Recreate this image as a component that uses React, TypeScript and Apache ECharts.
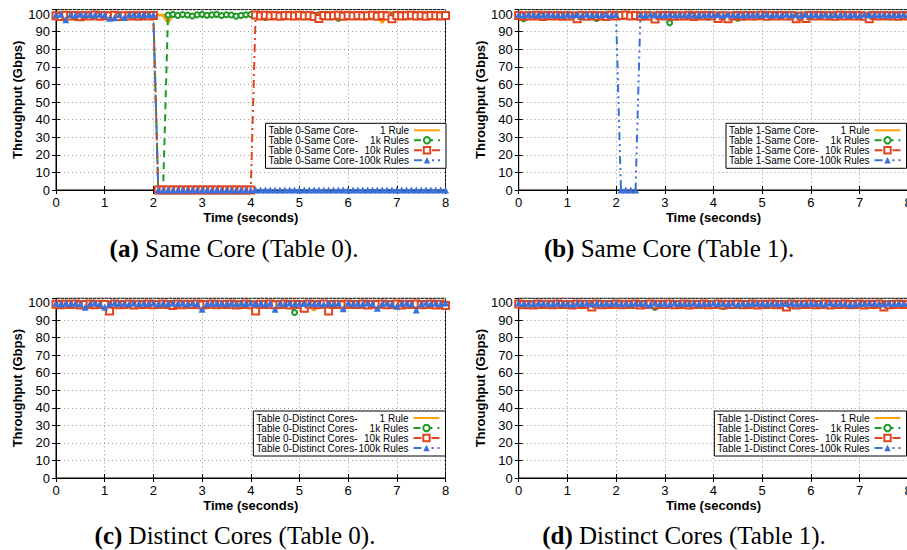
import React, { useEffect, useRef } from 'react';
import * as echarts from 'echarts';

// ---------------- data ----------------
const TIMES = [
  0, 0.1, 0.2, 0.3, 0.4, 0.5, 0.6, 0.7, 0.8, 0.9,
  1, 1.1, 1.2, 1.3, 1.4, 1.5, 1.6, 1.7, 1.8, 1.9,
  2, 2.1, 2.2, 2.3, 2.4, 2.5, 2.6, 2.7, 2.8, 2.9,
  3, 3.1, 3.2, 3.3, 3.4, 3.5, 3.6, 3.7, 3.8, 3.9,
  4, 4.1, 4.2, 4.3, 4.4, 4.5, 4.6, 4.7, 4.8, 4.9,
  5, 5.1, 5.2, 5.3, 5.4, 5.5, 5.6, 5.7, 5.8, 5.9,
  6, 6.1, 6.2, 6.3, 6.4, 6.5, 6.6, 6.7, 6.8, 6.9,
  7, 7.1, 7.2, 7.3, 7.4, 7.5, 7.6, 7.7, 7.8, 7.9,
  8,
];

const RULES = ['1 Rule', '1k Rules', '10k Rules', '100k Rules'];
const PREFIXES = ['Table 0-Same Core-', 'Table 1-Same Core-', 'Table 0-Distinct Cores-', 'Table 1-Distinct Cores-'];
const CAPTION_TAGS = ['(a)', '(b)', '(c)', '(d)'];
const CAPTION_TEXTS = [' Same Core (Table 0).', ' Same Core (Table 1).', ' Distinct Cores (Table 0).', ' Distinct Cores (Table 1).'];
const X_NAME = 'Time (seconds)';
const Y_NAME = 'Throughput (Gbps)';

// (a) Table 0 - Same Core
const A_1RULE = [
  99.4, 99.6, 99.5, 99.3, 99.6, 99.5, 99.4, 99.6, 99.5, 99.5,
  99.6, 99.4, 99.5, 99.6, 99.3, 99.5, 99.6, 99.5, 99.4, 99.6,
  99.5, 99.4, 99.4, 95.2, 99.6, 99.5, 99.4, 99.6, 99.5, 99.3,
  99.6, 99.5, 99.4, 99.6, 99.5, 99.4, 99.6, 99.5, 99.3, 99.6,
  99.5, 99.4, 99.6, 99.5, 99.5, 99.6, 99.4, 99.5, 99.6, 99.3,
  99.5, 99.6, 99.4, 99.5, 99.6, 99.5, 99.4, 99.6, 99.5, 99.5,
  99.6, 99.4, 99.5, 99.6, 99.5, 99.3, 99.6, 95.1, 99.4, 99.5,
  99.6, 99.5, 99.4, 99.6, 99.5, 99.5, 99.4, 99.6, 99.5, 99.6,
  99.5,
];
const A_1K = [
  99.2, 99.6, 98.9, 99.5, 98.1, 99.4, 99.7, 99.0, 99.5, 99.3,
  99.6, 99.1, 99.5, 99.4, 99.0, 99.6, 99.3, 99.5, 99.2, 99.6,
  99.3, 0, 0, 99.4, 99.8, 99.2, 99.7, 99.4, 98.9, 99.6,
  99.8, 99.3, 99.5, 99.8, 99.1, 99.6, 99.4, 98.8, 99.2, 99.6,
  99.7, 99.5, 99.4, 98.0, 99.5, 99.6, 99.3, 99.5, 99.7, 99.2,
  99.5, 99.4, 99.6, 99.3, 99.5, 99.7, 99.4, 99.5, 97.6, 99.4,
  99.6, 99.3, 99.5, 99.7, 99.2, 99.5, 99.6, 99.4, 99.5, 99.3,
  99.6, 99.5, 99.4, 99.7, 99.3, 99.5, 99.6, 99.2, 99.5, 99.6,
  99.5,
];
const A_10K = [
  99.0, 98.6, 99.3, 98.8, 99.1, 98.5, 99.2, 98.9, 99.4, 98.7,
  99.1, 98.8, 99.3, 98.6, 99.0, 98.9, 99.2, 98.7, 99.1, 98.8,
  99.2, 0, 0, 0, 0, 0, 0, 0, 0, 0,
  0, 0, 0, 0, 0, 0, 0, 0, 0, 0,
  0, 99.4, 98.8, 99.3, 98.9, 99.1, 98.7, 99.2, 99.0, 98.8,
  99.3, 98.9, 99.1, 98.6, 97.4, 99.2, 98.8, 99.0, 99.3, 98.7,
  99.1, 98.9, 99.2, 98.8, 99.0, 99.3, 98.7, 99.1, 98.9, 97.3,
  99.2, 98.8, 99.0, 99.3, 98.9, 99.1, 98.7, 99.2, 99.0, 98.8,
  99.1,
];
const A_100K = [
  99.6, 99.8, 96.8, 99.7, 99.5, 99.8, 99.6, 99.7, 99.5, 99.8,
  99.6, 97.6, 97.8, 99.7, 98.0, 99.6, 99.8, 99.5, 99.7, 99.6,
  99.7, 0, 0, 0, 0, 0, 0, 0, 0, 0,
  0, 0, 0, 0, 0, 0, 0, 0, 0, 0,
  0, 0, 0, 0, 0, 0, 0, 0, 0, 0,
  0, 0, 0, 0, 0, 0, 0, 0, 0, 0,
  0, 0, 0, 0, 0, 0, 0, 0, 0, 0,
  0, 0, 0, 0, 0, 0, 0, 0, 0, 0,
  0,
];

// (b) Table 1 - Same Core
const B_1RULE = [
  99.5, 99.6, 99.4, 99.5, 99.7, 99.5, 99.4, 99.6, 99.5, 99.6,
  99.4, 99.5, 99.6, 99.5, 99.4, 99.7, 99.5, 99.6, 99.4, 99.5,
  99.6, 99.5, 99.4, 99.6, 99.5, 99.5, 99.7, 99.4, 99.6, 99.5,
  99.5, 99.4, 99.6, 99.5, 99.7, 99.5, 99.4, 99.6, 99.5, 99.6,
  99.4, 99.5, 99.6, 99.5, 99.4, 99.6, 99.5, 99.7, 99.5, 99.4,
  99.6, 99.5, 99.5, 99.4, 99.6, 99.5, 99.7, 99.5, 99.4, 99.6,
  99.5, 99.6, 99.4, 99.5, 99.6, 99.5, 99.4, 99.7, 99.5, 99.6,
  99.4, 99.5, 99.6, 99.5, 99.4, 99.6, 99.5, 99.5, 99.7, 99.4,
  99.5,
];
const B_1K = [
  99.5, 97.3, 99.4, 99.7, 99.2, 99.6, 99.5, 99.3, 99.7, 99.4,
  99.6, 99.2, 99.5, 99.7, 99.4, 99.3, 97.5, 99.6, 99.5, 99.4,
  99.7, 98.8, 99.5, 99.3, 99.6, 99.4, 99.7, 99.5, 99.2, 99.6,
  99.4, 95.0, 99.5, 99.6, 99.3, 99.7, 99.4, 99.5, 99.6, 98.2,
  99.5, 99.4, 99.6, 99.3, 99.5, 97.6, 99.4, 99.7, 99.5, 99.3,
  99.6, 99.4, 99.5, 99.7, 99.3, 99.5, 99.6, 99.4, 99.5, 99.6,
  99.3, 99.5, 99.7, 99.4, 99.5, 99.6, 99.3, 99.5, 99.4, 99.6,
  99.5, 99.3, 99.6, 99.4, 99.5, 99.7, 99.4, 99.5, 99.6, 99.3,
  99.5,
];
const B_10K = [
  99.2, 98.7, 99.0, 98.8, 99.3, 98.6, 99.1, 98.9, 99.2, 98.7,
  99.0, 98.8, 97.3, 99.1, 98.7, 99.2, 98.9, 99.0, 98.6, 99.3,
  98.8, 99.1, 99.4, 98.9, 99.2, 98.7, 99.0, 98.8, 97.2, 99.1,
  98.9, 99.2, 98.7, 99.0, 98.8, 99.3, 98.6, 99.1, 98.9, 99.2,
  98.8, 97.5, 99.0, 97.3, 98.9, 99.1, 98.7, 99.2, 98.8, 99.0,
  99.3, 98.7, 99.1, 98.9, 99.2, 98.8, 99.0, 97.3, 98.7, 97.4,
  99.1, 98.8, 99.2, 98.9, 99.0, 98.7, 99.3, 98.8, 99.1, 98.9,
  99.0, 98.7, 97.3, 99.2, 98.8, 99.1, 98.9, 99.0, 98.7, 99.2,
  98.9,
];
const B_100K = [
  99.7, 99.3, 99.8, 99.4, 99.7, 99.3, 99.8, 99.5, 99.7, 99.3,
  99.8, 99.4, 99.7, 99.3, 99.8, 99.5, 99.7, 99.4, 99.8, 99.3,
  99.7, 0, 0, 0, 0, 99.6, 99.3, 99.8, 99.4, 99.7,
  99.3, 99.8, 99.5, 99.7, 99.4, 99.8, 99.3, 99.7, 99.5, 99.8,
  99.4, 99.7, 99.3, 99.8, 99.5, 99.7, 99.3, 99.8, 99.4, 99.7,
  99.5, 99.8, 99.3, 99.7, 99.4, 99.8, 99.5, 99.7, 99.3, 99.8,
  99.4, 99.7, 99.5, 99.8, 99.3, 99.7, 99.4, 99.8, 99.5, 99.7,
  99.3, 99.8, 99.4, 99.7, 99.5, 99.8, 99.3, 99.7, 99.4, 99.8,
  99.5,
];

// (c) Table 0 - Distinct Cores
const C_1RULE = [
  99.5, 99.4, 99.6, 99.5, 99.3, 99.6, 99.5, 99.4, 99.6, 99.5,
  99.4, 99.6, 99.5, 99.5, 99.3, 99.6, 99.4, 99.5, 99.6, 99.5,
  99.4, 99.5, 99.6, 99.3, 99.5, 99.6, 99.4, 99.5, 99.5, 99.6,
  99.3, 99.5, 99.6, 99.4, 99.5, 99.6, 99.5, 99.4, 99.6, 99.5,
  99.5, 99.4, 99.6, 99.5, 99.3, 99.6, 99.5, 99.4, 99.5, 99.6,
  99.4, 99.5, 99.6, 95.6, 99.5, 99.4, 99.6, 99.5, 99.3, 99.6,
  99.5, 99.4, 99.6, 99.5, 99.5, 99.3, 99.6, 99.4, 99.5, 99.6,
  99.5, 99.4, 99.6, 99.5, 99.3, 99.6, 99.5, 99.4, 99.6, 99.5,
  99.5,
];
const C_1K = [
  99.3, 99.6, 99.4, 99.7, 99.2, 99.5, 99.6, 99.3, 99.7, 99.4,
  99.5, 98.6, 99.6, 99.3, 99.5, 99.7, 99.4, 99.2, 99.6, 99.5,
  99.3, 99.6, 99.4, 99.5, 99.7, 98.9, 99.4, 99.6, 99.3, 99.5,
  99.6, 99.4, 99.3, 99.7, 99.5, 99.2, 99.6, 98.7, 99.4, 99.5,
  99.7, 99.3, 99.5, 99.6, 99.4, 99.2, 99.6, 99.5, 99.3, 94.4,
  99.5, 99.6, 99.3, 99.4, 99.7, 99.5, 99.2, 99.6, 99.4, 99.5,
  99.3, 99.6, 99.5, 99.4, 99.7, 99.3, 99.5, 99.6, 99.2, 99.5,
  99.4, 99.6, 99.5, 99.3, 99.7, 99.4, 99.5, 98.8, 99.6, 99.5,
  99.4,
];
const C_10K = [
  99.1, 98.8, 99.3, 98.9, 99.2, 98.7, 99.0, 99.3, 98.8, 99.1,
  98.9, 95.3, 99.2, 98.8, 99.0, 99.3, 98.7, 99.1, 98.9, 99.2,
  98.8, 99.0, 99.3, 98.9, 98.4, 99.2, 98.8, 99.1, 98.9, 99.3,
  98.7, 99.0, 99.2, 98.8, 99.1, 98.9, 99.3, 98.7, 99.0, 99.2,
  98.8, 95.3, 99.1, 98.9, 99.2, 98.8, 99.0, 99.3, 98.7, 99.1,
  98.9, 96.8, 99.2, 98.8, 99.0, 99.3, 95.3, 98.9, 99.1, 98.8,
  99.2, 98.9, 99.0, 99.3, 98.7, 99.1, 98.9, 99.2, 98.8, 99.0,
  99.3, 98.7, 99.1, 98.9, 99.2, 98.8, 99.0, 99.3, 98.7, 99.1,
  98.4,
];
const C_100K = [
  99.7, 99.3, 99.8, 99.4, 99.7, 99.3, 97.4, 99.5, 99.8, 99.4,
  97.5, 99.3, 99.8, 99.5, 99.7, 99.3, 99.8, 99.4, 99.7, 99.5,
  99.8, 99.3, 99.7, 99.4, 99.8, 99.5, 99.7, 99.3, 99.8, 99.4,
  96.2, 99.3, 99.8, 99.5, 99.7, 99.4, 99.8, 99.3, 99.7, 99.5,
  99.8, 99.4, 99.7, 99.3, 99.8, 96.2, 99.7, 99.4, 99.8, 99.3,
  99.7, 99.5, 99.8, 99.4, 99.7, 99.3, 99.8, 99.5, 99.7, 96.6,
  99.8, 99.4, 99.7, 99.3, 99.8, 99.5, 96.8, 99.4, 99.8, 99.3,
  98.0, 99.5, 99.8, 99.4, 95.8, 99.3, 99.8, 99.5, 99.7, 99.4,
  99.8,
];

// (d) Table 1 - Distinct Cores
const D_1RULE = [
  99.6, 99.5, 99.4, 99.6, 99.5, 99.7, 99.4, 99.5, 99.6, 99.5,
  99.5, 99.6, 99.4, 99.5, 99.7, 99.5, 99.6, 99.4, 99.5, 99.6,
  99.4, 99.5, 99.6, 99.5, 99.4, 99.6, 99.5, 99.7, 99.5, 99.4,
  99.6, 99.5, 99.4, 99.6, 99.5, 99.5, 99.7, 99.4, 99.6, 99.5,
  99.5, 99.6, 99.4, 99.5, 99.6, 99.5, 99.4, 99.7, 99.5, 99.6,
  99.4, 99.5, 99.6, 99.5, 99.7, 99.4, 99.5, 99.6, 99.5, 99.4,
  99.6, 99.5, 99.4, 99.6, 99.5, 99.7, 99.5, 99.4, 99.6, 99.5,
  99.5, 99.4, 99.6, 99.5, 99.6, 99.5, 99.4, 99.7, 99.5, 99.6,
  99.5,
];
const D_1K = [
  99.4, 99.6, 99.3, 99.5, 99.7, 99.4, 99.6, 99.5, 99.3, 99.6,
  99.5, 99.4, 99.7, 99.3, 99.6, 99.5, 99.4, 99.6, 99.5, 99.3,
  99.6, 99.5, 99.4, 99.7, 99.5, 99.3, 99.6, 99.4, 97.4, 99.5,
  99.6, 99.4, 99.5, 99.7, 99.3, 99.6, 99.5, 99.4, 99.6, 99.5,
  99.3, 99.6, 97.8, 99.5, 99.4, 99.7, 99.5, 99.3, 99.6, 99.4,
  99.5, 99.6, 99.3, 99.5, 99.7, 99.4, 99.6, 99.5, 99.3, 99.6,
  99.4, 99.5, 99.7, 99.3, 99.6, 99.5, 99.4, 99.6, 99.5, 99.3,
  99.6, 99.4, 99.5, 98.2, 99.6, 99.5, 99.3, 99.7, 99.4, 99.5,
  99.6,
];
const D_10K = [
  99.2, 98.8, 99.0, 98.7, 99.3, 98.9, 99.1, 98.8, 99.2, 98.9,
  99.0, 98.7, 99.3, 98.9, 99.1, 97.6, 99.2, 98.8, 99.0, 98.9,
  99.3, 98.8, 99.1, 98.9, 99.2, 98.7, 99.0, 99.3, 98.8, 99.1,
  98.9, 99.2, 98.8, 99.0, 99.3, 98.7, 99.1, 98.9, 99.2, 98.8,
  99.0, 99.3, 98.7, 99.1, 98.9, 99.2, 98.8, 99.0, 99.3, 98.7,
  99.1, 98.9, 99.2, 98.8, 99.0, 97.5, 99.3, 98.7, 99.1, 98.9,
  99.2, 98.8, 99.0, 99.3, 98.7, 99.1, 98.9, 99.2, 98.8, 99.0,
  99.3, 98.7, 99.1, 98.9, 99.2, 97.6, 98.8, 99.0, 99.3, 98.9,
  99.1,
];
const D_100K = [
  99.8, 99.4, 99.7, 99.3, 99.8, 99.5, 99.7, 99.3, 99.8, 99.4,
  99.7, 98.9, 99.8, 99.5, 99.7, 99.3, 99.8, 99.4, 99.7, 99.5,
  99.8, 99.3, 99.7, 99.4, 99.8, 99.5, 99.7, 98.8, 99.8, 99.4,
  99.7, 99.3, 99.8, 99.5, 99.7, 99.4, 99.8, 99.3, 99.7, 99.5,
  99.8, 99.4, 99.7, 99.3, 99.8, 98.9, 99.7, 99.4, 99.8, 99.5,
  99.7, 99.3, 99.8, 99.4, 99.7, 99.5, 99.8, 99.3, 99.7, 99.4,
  99.8, 99.5, 99.7, 99.3, 99.8, 99.4, 99.7, 99.5, 98.9, 99.3,
  99.7, 99.4, 99.8, 99.5, 99.7, 99.3, 99.8, 99.4, 99.7, 99.5,
  99.8,
];

const PANEL_DATA = [
  [A_1RULE, A_1K, A_10K, A_100K],
  [B_1RULE, B_1K, B_10K, B_100K],
  [C_1RULE, C_1K, C_10K, C_100K],
  [D_1RULE, D_1K, D_10K, D_100K],
];

// ---------------- styling / layout ----------------
const SANS = '"Liberation Sans", Arial, Helvetica, sans-serif';
const SERIF = '"Liberation Serif", "Times New Roman", serif';

const SERIES_STYLE = [
  { color: '#ffa10a', width: 3, type: 'solid' as any, symbol: 'none', size: 0 },
  { color: '#1e9a22', width: 2, type: [7, 5] as any, symbol: 'emptyCircle', size: 5 },
  { color: '#e2441c', width: 2, type: [8, 4, 2, 4] as any, symbol: 'emptyRect', size: 7 },
  { color: '#3a70d8', width: 2, type: [8, 4, 2, 4, 2, 4] as any, symbol: 'triangle', size: 7 },
];

const GRID_POS = [
  { left: 56, top: 9.6, height: 180.4 },
  { left: 518.7, top: 9.6, height: 180.4 },
  { left: 56, top: 298.3, height: 179.7 },
  { left: 518.7, top: 298.3, height: 179.7 },
];
const GRID_W = 389.5;
const CHART_W = 920;
const LEGEND_POS = [
  { right: 474, top: 123.3 },
  { right: 13.5, top: 123.3 },
  { right: 474.5, top: 411 },
  { right: 13.5, top: 411 },
];
const CAPTION_POS = [
  { x: 234, top: 233 },
  { x: 669, top: 233 },
  { x: 235, top: 520 },
  { x: 684, top: 520 },
];

function buildOption() {
  const nameParts: Record<string, { p: string; r: string }> = {};
  const grid: any[] = [];
  const xAxis: any[] = [];
  const yAxis: any[] = [];
  const series: any[] = [];
  const legend: any[] = [];
  const title: any[] = [];

  const axisLine = { show: true, lineStyle: { color: '#000', width: 1 } };
  const axisTick = { show: true, inside: true, length: 4, lineStyle: { color: '#000', width: 1 } };
  const splitLine = { show: true, lineStyle: { color: '#9a9a9a', width: 1, type: [1, 3] } };
  const labelStyle = { fontFamily: SANS, fontSize: 13, color: '#000' };
  const nameStyle = { fontFamily: SANS, fontSize: 13, fontWeight: 'bold', color: '#000' };

  PANEL_DATA.forEach((panel, i) => {
    const g = GRID_POS[i];
    grid.push({
      left: g.left, top: g.top, width: GRID_W, height: g.height,
      show: true, borderColor: '#000', borderWidth: 1, backgroundColor: 'transparent',
      containLabel: false, outerBoundsMode: 'none',
    });
    xAxis.push({
      type: 'value', gridIndex: i, min: 0, max: 8, interval: 1, position: 'bottom',
      axisLine, axisTick, splitLine,
      axisLabel: { ...labelStyle, margin: 6 },
      name: X_NAME, nameLocation: 'middle', nameGap: 21, nameTextStyle: nameStyle,
    });
    xAxis.push({
      type: 'value', gridIndex: i, min: 0, max: 8, interval: 1, position: 'top',
      axisLine, axisTick, splitLine: { show: false }, axisLabel: { show: false },
    });
    yAxis.push({
      type: 'value', gridIndex: i, min: 0, max: 102.5, interval: 10, position: 'left',
      axisLine, axisTick, splitLine,
      axisLabel: {
        ...labelStyle, margin: 6, showMaxLabel: false,
        formatter: (v: number) => (v > 100 ? '' : String(v)),
      },
      name: Y_NAME, nameLocation: 'middle', nameGap: 28, nameTextStyle: nameStyle,
    });
    yAxis.push({
      type: 'value', gridIndex: i, min: 0, max: 102.5, interval: 10, position: 'right',
      axisLine, axisTick, splitLine: { show: false }, axisLabel: { show: false },
    });

    const legendData: any[] = [];
    panel.forEach((vals, j) => {
      const st = SERIES_STYLE[j];
      const name = PREFIXES[i] + RULES[j];
      nameParts[name] = { p: PREFIXES[i], r: RULES[j] };
      legendData.push(
        st.symbol === 'none'
          ? { name, itemStyle: { opacity: 0 } }
          : { name },
      );
      series.push({
        type: 'line', name, xAxisIndex: i * 2, yAxisIndex: i * 2,
        data: TIMES.map((t, k) => [t, vals[k]]),
        color: st.color,
        symbol: st.symbol, symbolSize: st.size, showSymbol: st.symbol !== 'none',
        lineStyle: { color: st.color, width: st.width, type: st.type },
        itemStyle: { color: st.color, borderColor: st.color, borderWidth: st.symbol === 'triangle' ? 0 : 1.4 },
        emphasis: { disabled: true },
        silent: true,
        z: 2,
      });
    });

    legend.push({
      orient: 'vertical', right: LEGEND_POS[i].right, top: LEGEND_POS[i].top,
      align: 'right', itemWidth: 26, itemHeight: 8, itemGap: 0,
      backgroundColor: '#fff', borderColor: '#000', borderWidth: 1, borderRadius: 0,
      padding: [2, 5, 3, 3], selectedMode: false,
      data: legendData,
      formatter: (n: string) => `{p|${nameParts[n].p}}{r|${nameParts[n].r}}`,
      textStyle: {
        fontFamily: SANS, fontSize: 10, lineHeight: 10, color: '#000',
        rich: {
          p: { fontFamily: SANS, fontSize: 10, lineHeight: 10, color: '#000' },
          r: { fontFamily: SANS, fontSize: 10, lineHeight: 10, color: '#000', width: 51, align: 'right' },
        },
      },
      z: 5,
    });

    title.push({
      text: `{b|${CAPTION_TAGS[i]}}{n|${CAPTION_TEXTS[i]}}`,
      left: CAPTION_POS[i].x, top: CAPTION_POS[i].top, textAlign: 'center',
      padding: 0,
      textStyle: {
        fontFamily: SERIF, fontSize: 25, color: '#000', lineHeight: 30,
        rich: {
          b: { fontFamily: SERIF, fontSize: 25, fontWeight: 'bold', color: '#000', lineHeight: 30 },
          n: { fontFamily: SERIF, fontSize: 25, fontWeight: 'normal', color: '#000', lineHeight: 30 },
        },
      },
    });
  });

  return {
    animation: false,
    backgroundColor: '#fff',
    grid, xAxis, yAxis, series, legend, title,
  };
}

export default function App() {
  const ref = useRef<HTMLDivElement>(null);
  useEffect(() => {
    if (!ref.current) return;
    const chart = echarts.init(ref.current, undefined, { renderer: 'svg' });
    chart.setOption(buildOption() as any);
    return () => chart.dispose();
  }, []);
  return (
    <div style={{ position: 'fixed', left: 0, top: 0, width: 907, height: 550, overflow: 'hidden', background: '#fff' }}>
      <div ref={ref} style={{ width: CHART_W, height: 550 }} />
    </div>
  );
}
